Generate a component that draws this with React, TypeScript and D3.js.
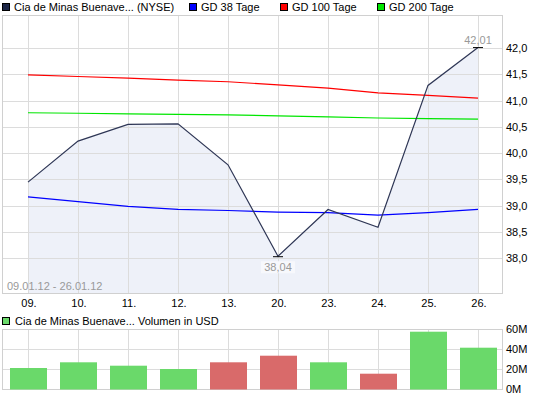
import React from 'react';
import * as d3 from 'd3';

const days = ['09.', '10.', '11.', '12.', '13.', '20.', '23.', '24.', '25.', '26.'];
const price = [39.45, 40.23, 40.55, 40.56, 39.78, 38.04, 38.93, 38.59, 41.29, 42.01];
const gd38 = [39.17, 39.08, 38.99, 38.93, 38.91, 38.88, 38.87, 38.82, 38.87, 38.93];
const gd100 = [41.49, 41.46, 41.43, 41.39, 41.36, 41.3, 41.24, 41.15, 41.1, 41.05];
const gd200 = [40.77, 40.76, 40.75, 40.74, 40.73, 40.71, 40.69, 40.67, 40.66, 40.65];
const volume = [21, 26.7, 23.3, 20, 26.7, 33.3, 26.7, 15.3, 57.3, 41.3];
const volumeUp = [true, true, true, true, false, false, true, false, true, true];
const priceTicks = [38, 38.5, 39, 39.5, 40, 40.5, 41, 41.5, 42];
const volumeTicks = [0, 20, 40, 60];
const legendItems = [
  {label: 'Cia de Minas Buenave... (NYSE)', color: '#1b2546', x: 2},
  {label: 'GD 38 Tage', color: '#0000ff', x: 189},
  {label: 'GD 100 Tage', color: '#ff0000', x: 280},
  {label: 'GD 200 Tage', color: '#00e600', x: 377},
];
const dateRange = '09.01.12 - 26.01.12';
const volumeTitle = 'Cia de Minas Buenave... Volumen in USD';

const font = '"Liberation Sans", Arial, sans-serif';
const gridColor = '#dcdcdc';

export default function App() {
  const left = 3, right = 503;
  const top = 15, bottom = 293;
  const vTop = 329, vBottom = 389;

  const x = d3.scalePoint<string>().domain(days).range([left, right]).padding(0.5);
  const xb = d3.scaleBand<string>().domain(days).range([left, right])
    .paddingInner(0.26).paddingOuter(0.13);
  const y = d3.scaleLinear().domain([37.34, 42.63]).range([bottom, top]);
  const yv = d3.scaleLinear().domain([0, 60]).range([vBottom, vTop]);

  const line = d3.line<number>().x((d, i) => x(days[i])!).y(d => y(d));
  const area = d3.area<number>().x((d, i) => x(days[i])!).y0(bottom).y1(d => y(d));
  const fmt = (v: number) => d3.format('.1f')(v).replace('.', ',');
  const fmt2 = (v: number) => d3.format('.2f')(v).replace('.', ',');

  const maxIdx = d3.maxIndex(price);
  const minIdx = d3.minIndex(price);

  return (
    <svg width={545} height={398} style={{position: 'absolute', left: 0, top: 0}}
      fontFamily={font} fontSize={11}>
      <rect width={545} height={398} fill='#fff'/>

      {/* legend */}
      {legendItems.map(l => (
        <g key={l.label}>
          <rect x={l.x + 0.5} y={3.5} width={7} height={7} fill={l.color} stroke='#000' strokeWidth={1}/>
          <text x={l.x + 12} y={11} fill='#000'>{l.label}</text>
        </g>
      ))}

      {/* price panel */}
      <path d={area(price)!} fill='#eef1f9'/>
      {days.map(d => (
        <line key={d} x1={x(d)! + 0.5} x2={x(d)! + 0.5} y1={top} y2={bottom} stroke={gridColor}/>
      ))}
      {priceTicks.map(t => (
        <line key={t} x1={left} x2={right} y1={Math.round(y(t)) + 0.5} y2={Math.round(y(t)) + 0.5} stroke={gridColor}/>
      ))}
      <rect x={left - 0.5} y={top + 0.5} width={right - left} height={bottom - top} fill='none' stroke='#d0d0d0'/>

      <path d={line(gd200)!} fill='none' stroke='#00e600' strokeWidth={1.2}/>
      <path d={line(gd100)!} fill='none' stroke='#ff0000' strokeWidth={1.2}/>
      <path d={line(gd38)!} fill='none' stroke='#0000ff' strokeWidth={1.2}/>
      <path d={line(price)!} fill='none' stroke='#2e3655' strokeWidth={1.2}/>

      {/* extreme markers */}
      <line x1={x(days[maxIdx])! - 5} x2={x(days[maxIdx])! + 5} y1={y(price[maxIdx])} y2={y(price[maxIdx])} stroke='#000'/>
      <text x={x(days[maxIdx])!} y={y(price[maxIdx]) - 4} textAnchor='middle' fill='#999'>{fmt2(price[maxIdx])}</text>
      <line x1={x(days[minIdx])! - 5} x2={x(days[minIdx])! + 5} y1={y(price[minIdx]) + 0.5} y2={y(price[minIdx]) + 0.5} stroke='#000'/>
      <rect x={x(days[minIdx])! - 17} y={y(price[minIdx]) + 5} width={34} height={12} fill='#f7f8fc'/>
      <text x={x(days[minIdx])!} y={y(price[minIdx]) + 15} textAnchor='middle' fill='#999'>{fmt2(price[minIdx])}</text>

      <text x={7} y={290} fill='#999'>{dateRange}</text>

      {priceTicks.map(t => (
        <text key={t} x={506} y={y(t) + 4} fill='#000'>{fmt(t)}</text>
      ))}
      {days.map(d => (
        <text key={d} x={x(d)! + 1} y={307} textAnchor='middle' fill='#000'>{d}</text>
      ))}

      {/* volume panel */}
      <rect x={2.5} y={317.5} width={7} height={7} fill='#6ad96a' stroke='#000'/>
      <text x={15} y={325} fill='#000'>{volumeTitle}</text>
      {days.map(d => (
        <line key={d} x1={x(d)! + 0.5} x2={x(d)! + 0.5} y1={vTop} y2={vBottom} stroke={gridColor}/>
      ))}
      {volumeTicks.map(t => (
        <line key={t} x1={left} x2={right} y1={yv(t) + 0.5} y2={yv(t) + 0.5} stroke={gridColor}/>
      ))}
      <rect x={left - 0.5} y={vTop + 0.5} width={right - left} height={vBottom - vTop} fill='none' stroke='#d0d0d0'/>
      {days.map((d, i) => (
        <rect key={d} x={xb(d)! + 0.5} y={yv(volume[i])} width={xb.bandwidth()}
          height={yv(0) - yv(volume[i]) + 0.5} fill={volumeUp[i] ? '#6ad96a' : '#d96a6a'}/>
      ))}
      {volumeTicks.map(t => (
        <text key={t} x={506} y={yv(t) + 4} fill='#000'>{t + 'M'}</text>
      ))}
    </svg>
  );
}
